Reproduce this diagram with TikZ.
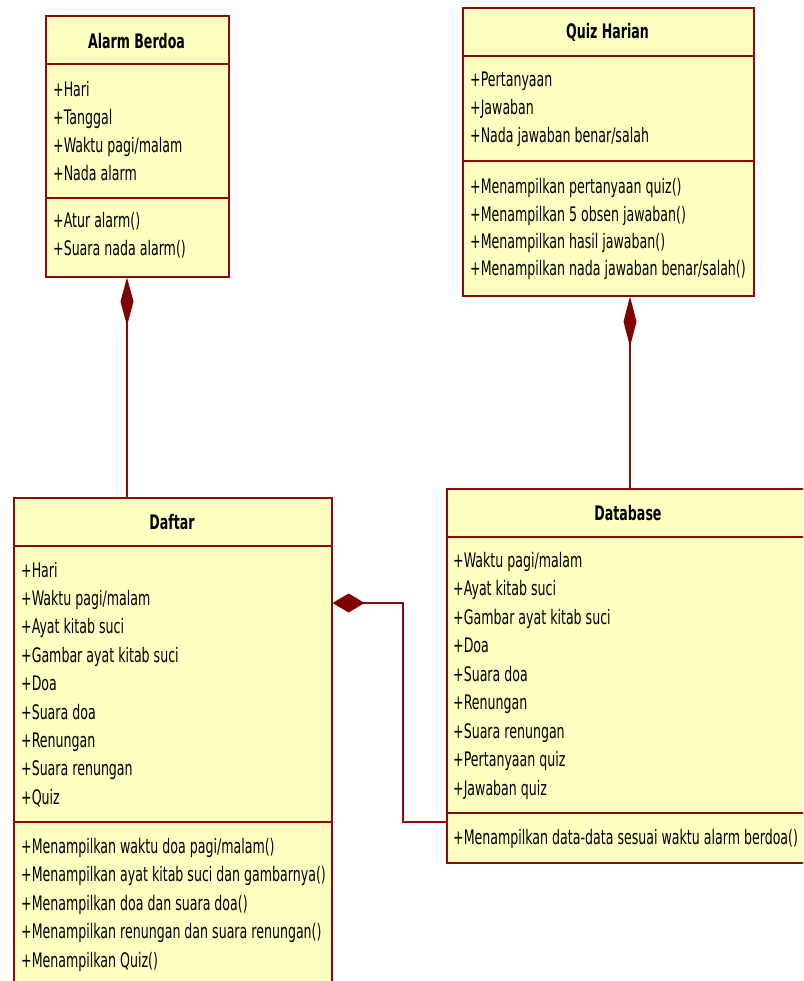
\documentclass[tikz,border=0pt]{standalone}
\usepackage{fontspec}
\setmainfont{DejaVu Sans}[FakeStretch=0.63]
\usetikzlibrary{arrows.meta}
\definecolor{bordc}{RGB}{140,10,10}
\definecolor{fillc}{RGB}{255,255,194}
\definecolor{diac}{RGB}{128,0,0}
\tikzset{
  classbox/.style={draw=bordc, fill=fillc, line width=1.6pt, rectangle, anchor=north west, inner sep=0pt},
  sepline/.style={draw=bordc, line width=1.6pt},
  titletxt/.style={font=\fontsize{20}{24}\selectfont\bfseries, inner sep=0pt, anchor=center},
  txt/.style={font=\fontsize{20}{24}\selectfont, inner sep=0pt, anchor=base west},
  conn/.style={draw=bordc, line width=1.5pt},
  compo/.style={{Diamond[length=#1, width=13pt, fill=diac, color=diac]}-},
}
\begin{document}
\begin{tikzpicture}[x=1pt,y=-1pt]
\clip (0,0) rectangle (803,981);
\fill[white] (0,0) rectangle (803,981);

% ---------- Alarm Berdoa ----------
\node[classbox, minimum width=183pt, minimum height=261pt] (alarm) at (45,15) {};
\draw[sepline] (45,64) -- (228,64);
\draw[sepline] (45,198) -- (228,198);
\node[titletxt] (alarmT) at (136.5,41) {Alarm Berdoa};
\foreach \t [count=\i] in {{+Hari},{+Tanggal},{+Waktu pagi/malam},{+Nada alarm}}
  \node[txt] (alarmA\i) at (53,{97+27.7*(\i-1)}) {\t};
\foreach \t [count=\i] in {{+Atur alarm()},{+Suara nada alarm()}}
  \node[txt] (alarmM\i) at (53,{228+27.5*(\i-1)}) {\t};

% ---------- Quiz Harian ----------
\node[classbox, minimum width=291pt, minimum height=288pt] (quiz) at (462,7) {};
\draw[sepline] (462,56) -- (753,56);
\draw[sepline] (462,161) -- (753,161);
\node[titletxt] (quizT) at (607.5,32) {Quiz Harian};
\foreach \t [count=\i] in {{+Pertanyaan},{+Jawaban},{+Nada jawaban benar/salah}}
  \node[txt] (quizA\i) at (470,{87+28*(\i-1)}) {\t};
\foreach \t [count=\i] in {{+Menampilkan pertanyaan quiz()},{+Menampilkan 5 obsen jawaban()},{+Menampilkan hasil jawaban()},{+Menampilkan nada jawaban benar/salah()}}
  \node[txt] (quizM\i) at (470,{194+27.2*(\i-1)}) {\t};

% ---------- Daftar ----------
\node[classbox, minimum width=318pt, minimum height=520pt] (daftar) at (13,497) {};
\draw[sepline] (13,546) -- (331,546);
\draw[sepline] (13,822) -- (331,822);
\node[titletxt] (daftarT) at (172,522) {Daftar};
\foreach \t [count=\i] in {{+Hari},{+Waktu pagi/malam},{+Ayat kitab suci},{+Gambar ayat kitab suci},{+Doa},{+Suara doa},{+Renungan},{+Suara renungan},{+Quiz}}
  \node[txt] (daftarA\i) at (21,{577+28.4*(\i-1)}) {\t};
\foreach \t [count=\i] in {{+Menampilkan waktu doa pagi/malam()},{+Menampilkan ayat kitab suci dan gambarnya()},{+Menampilkan doa dan suara doa()},{+Menampilkan renungan dan suara renungan()},{+Menampilkan Quiz()}}
  \node[txt] (daftarM\i) at (21,{853+28.5*(\i-1)}) {\t};

% ---------- Database ----------
\node[classbox, minimum width=364pt, minimum height=374pt] (db) at (446,488) {};
\draw[sepline] (446,537) -- (810,537);
\draw[sepline] (446,813) -- (810,813);
\node[titletxt] (dbT) at (628,513) {Database};
\foreach \t [count=\i] in {{+Waktu pagi/malam},{+Ayat kitab suci},{+Gambar ayat kitab suci},{+Doa},{+Suara doa},{+Renungan},{+Suara renungan},{+Pertanyaan quiz},{+Jawaban quiz}}
  \node[txt] (dbA\i) at (453,{567+28.5*(\i-1)}) {\t};
\node[txt] (dbM1) at (453,844) {+Menampilkan data-data sesuai waktu alarm berdoa()};

% ---------- Connectors ----------
\coordinate (alarmP) at ([xshift=82pt]alarm.south west);
\coordinate (daftarP) at ([xshift=114pt]daftar.north west);
\draw[conn, compo=48pt] (alarmP) -- (daftarP);

\coordinate (quizP) at ([xshift=168pt]quiz.south west);
\coordinate (dbP) at ([xshift=184pt]db.north west);
\draw[conn, compo=50pt] (quizP) -- (dbP);

\coordinate (daftarR) at ([yshift=-106pt]daftar.north east);
\coordinate (dbL) at ([yshift=-334pt]db.north west);
\coordinate (bend1) at (403,603);
\coordinate (bend2) at (403,822);
\draw[conn, {Diamond[length=32pt, width=19pt, fill=diac, color=diac]}-] (daftarR) -- (bend1) -- (bend2) -- (dbL);
\end{tikzpicture}
\end{document}
